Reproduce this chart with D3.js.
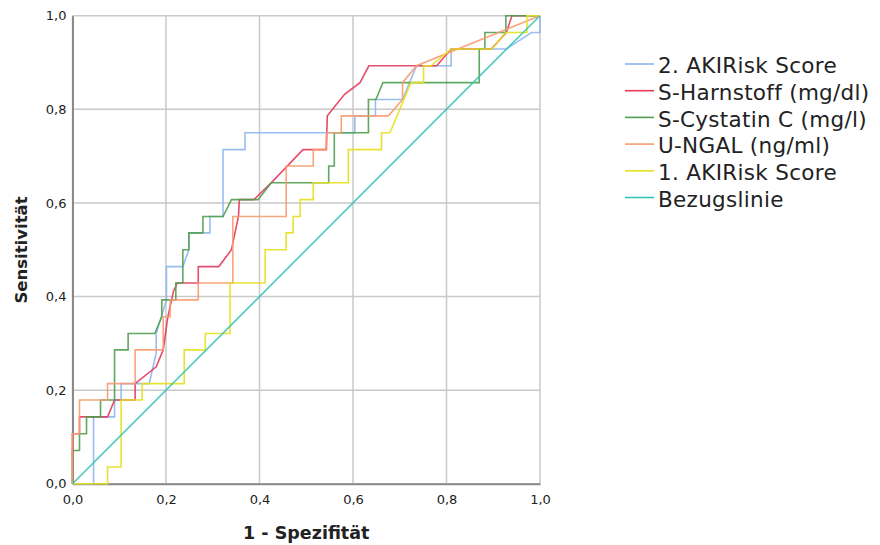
<!DOCTYPE html>
<html lang="de">
<head>
<meta charset="UTF-8">
<title>ROC-Kurve</title>
<script src="https://cdn.jsdelivr.net/npm/d3@7"></script>
<style>
  body { margin: 0; background: #fff; }
  text { font-family: "DejaVu Sans", sans-serif; fill: #222; }
</style>
</head>
<body>
<svg width="880" height="545"></svg>
<script>
// series names (legend order)
const seriesNames = ["2. AKIRisk Score", "S-Harnstoff (mg/dl)", "S-Cystatin C (mg/l)", "U-NGAL (ng/ml)", "1. AKIRisk Score", "Bezugslinie"];

// 1 - Spezifität / Sensitivität
const aki2X = [0, .045, .045, .090, .090, .104, .104, .164, .179, .179, .201, .201, .236, .249, .249, .294, .294, .322, .322, .369, .369, .604, .604, .648, .648, .706, .736, .810, .810, .928, .982, 1, 1];
const aki2Y = [0, 0, .143, .143, .179, .179, .214, .214, .279, .321, .393, .464, .464, .5, .536, .536, .571, .571, .714, .714, .75, .75, .786, .786, .821, .821, .893, .893, .929, .929, .964, .964, 1];

const harnX = [0, 0, .015, .015, .075, .090, .134, .134, .179, .194, .204, .216, .224, .269, .269, .313, .340, .355, .357, .388, .425, .493, .543, .545, .582, .615, .634, .779, .810, .896, .928, .940, 1];
const harnY = [0, .107, .107, .143, .143, .179, .179, .214, .25, .286, .357, .411, .429, .429, .464, .464, .5, .571, .607, .607, .643, .714, .714, .786, .832, .857, .893, .893, .929, .929, .964, 1, 1];

const cysX = [0, 0, .015, .015, .030, .030, .060, .060, .090, .090, .119, .119, .176, .191, .191, .221, .221, .236, .236, .249, .249, .279, .279, .322, .340, .397, .425, .548, .548, .560, .560, .633, .633, .649, .664, .870, .870, .882, .882, .927, .927, 1];
const cysY = [0, .071, .071, .107, .107, .143, .143, .179, .179, .286, .286, .321, .321, .357, .393, .393, .429, .429, .5, .5, .536, .536, .571, .571, .607, .607, .643, .643, .679, .679, .75, .75, .821, .821, .857, .857, .929, .929, .964, .964, 1, 1];

const ngalX = [0, 0, .015, .015, .075, .075, .134, .134, .194, .194, .209, .209, .269, .269, .343, .343, .457, .457, .515, .515, .543, .543, .575, .575, .676, .706, .706, .736, 1];
const ngalY = [0, .107, .107, .179, .179, .214, .214, .286, .286, .357, .357, .393, .393, .429, .429, .571, .571, .679, .679, .714, .714, .75, .75, .786, .786, .821, .857, .893, 1];

const aki1X = [0, .075, .075, .104, .104, .149, .149, .239, .239, .284, .284, .337, .337, .412, .412, .457, .457, .472, .472, .487, .487, .515, .515, .590, .590, .661, .661, .679, .724, .751, .751, .767, .810, .897, .927, .972, .972, 1];
const aki1Y = [0, 0, .036, .036, .179, .179, .214, .214, .286, .286, .321, .321, .429, .429, .5, .5, .536, .536, .571, .571, .607, .607, .643, .643, .714, .714, .75, .75, .857, .857, .893, .893, .929, .929, .964, .964, 1, 1];

const refX = [0, 1];
const refY = [0, 1];

const tickValues = [0, 0.2, 0.4, 0.6, 0.8, 1.0];

const colors = ["#8db6ef", "#e33a5c", "#4f9f4f", "#f89a6e", "#e6e01c", "#33c4b4"];
const seriesX = [aki2X, harnX, cysX, ngalX, aki1X, refX];
const seriesY = [aki2Y, harnY, cysY, ngalY, aki1Y, refY];

const svg = d3.select("svg");
const plotL = 72.5, plotR = 540, plotT = 15.7, plotB = 483.8;

const x = d3.scaleLinear().domain([0, 1]).range([plotL, plotR]);
const y = d3.scaleLinear().domain([0, 1]).range([plotB, plotT]);

const de = d3.formatLocale({decimal: ",", thousands: ".", grouping: [3], currency: ["", " €"]});
const fmt = de.format(".1f");

// grid
const grid = svg.append("g");
grid.selectAll(".gx").data(tickValues).enter().append("line")
  .attr("x1", d => x(d)).attr("x2", d => x(d))
  .attr("y1", plotT).attr("y2", plotB)
  .attr("stroke", "#c9c9c9").attr("stroke-width", 1.5);
grid.selectAll(".gy").data(tickValues).enter().append("line")
  .attr("x1", plotL).attr("x2", plotR)
  .attr("y1", d => y(d)).attr("y2", d => y(d))
  .attr("stroke", "#c9c9c9").attr("stroke-width", 1.5);

// axes
const xAxis = svg.append("g")
  .attr("transform", `translate(0,${plotB})`)
  .call(d3.axisBottom(x).tickValues(tickValues).tickFormat(fmt).tickSize(0).tickPadding(11));
const yAxis = svg.append("g")
  .attr("transform", `translate(${plotL},0)`)
  .call(d3.axisLeft(y).tickValues(tickValues).tickFormat(fmt).tickSize(0).tickPadding(6));
[xAxis, yAxis].forEach(a => {
  a.select(".domain").attr("stroke", "#8a8a8a").attr("stroke-width", 2);
  a.selectAll("text").attr("font-size", 13).attr("font-family", "DejaVu Sans").attr("fill", "#222");
});

// curves
const line = d3.line().x(d => x(d[0])).y(d => y(d[1]));
seriesNames.forEach((name, i) => {
  const pts = seriesX[i].map((v, j) => [v, seriesY[i][j]]);
  svg.append("path")
    .datum(pts)
    .attr("d", line)
    .attr("fill", "none")
    .attr("stroke", colors[i])
    .attr("stroke-width", 1.6)
    .attr("stroke-opacity", 0.9)
    .attr("stroke-linejoin", "miter");
});

// axis titles
svg.append("text")
  .attr("x", (plotL + plotR) / 2).attr("y", 539)
  .attr("text-anchor", "middle")
  .attr("font-size", 17.5).attr("font-weight", "bold")
  .text("1 - Spezifität");
svg.append("text")
  .attr("transform", "translate(27,250) rotate(-90)")
  .attr("text-anchor", "middle")
  .attr("font-size", 16.5).attr("font-weight", "bold")
  .text("Sensitivität");

// legend
const legend = svg.append("g");
seriesNames.forEach((name, i) => {
  const ly = 64 + i * 26.7;
  legend.append("line")
    .attr("x1", 625).attr("x2", 654)
    .attr("y1", ly).attr("y2", ly)
    .attr("stroke", colors[i]).attr("stroke-width", 1.6);
  legend.append("text")
    .attr("x", 658).attr("y", ly + 9.3)
    .attr("font-size", 21.5).attr("letter-spacing", 0.3)
    .text(name);
});
</script>
</body>
</html>
